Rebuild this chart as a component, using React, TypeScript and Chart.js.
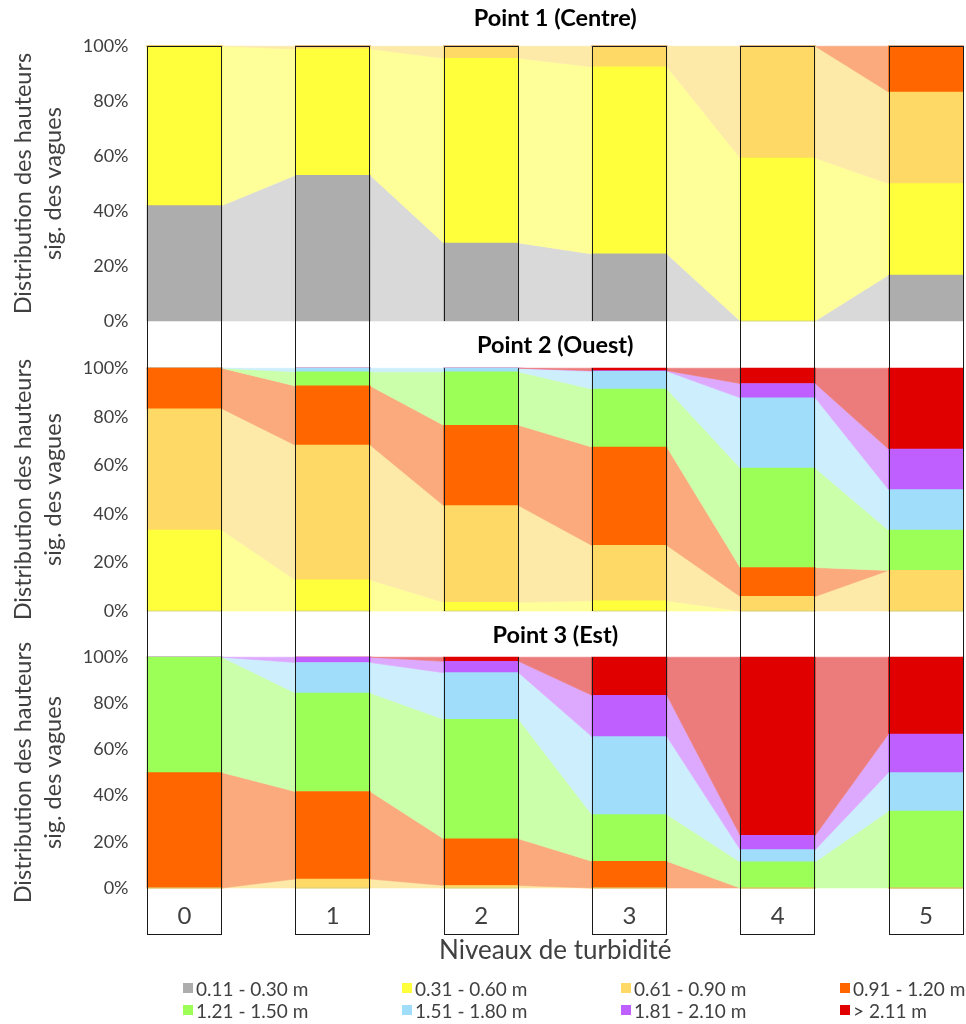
import React, { useEffect, useRef } from 'react';
import { Chart, registerables } from 'chart.js';

Chart.register(...registerables);

const FONT = "Lato, 'Noto Sans', 'Open Sans', sans-serif";

// ---------- categories / labels ----------
const turbidityLevels = ['0', '1', '2', '3', '4', '5'];
const heightClasses = [
  '0.11 - 0.30 m',
  '0.31 - 0.60 m',
  '0.61 - 0.90 m',
  '0.91 - 1.20 m',
  '1.21 - 1.50 m',
  '1.51 - 1.80 m',
  '1.81 - 2.10 m',
  '> 2.11 m',
];
const percentTicks = [0, 20, 40, 60, 80, 100];
const panelTitles = ['Point 1 (Centre)', 'Point 2 (Ouest)', 'Point 3 (Est)'];
const yAxisTitle = ['Distribution des hauteurs', 'sig. des vagues'];
const xAxisTitle = 'Niveaux de turbidité';

// ---------- Point 1 (Centre) : % per height class ----------
const centre_011_030 = [42, 53, 28.4, 24.4, 0, 16.7];
const centre_031_060 = [58, 46, 67.2, 68.1, 59.3, 33.3];
const centre_061_090 = [0, 1, 4.4, 7.5, 40.7, 33.3];
const centre_091_120 = [0, 0, 0, 0, 0, 16.7];
const centre_121_150 = [0, 0, 0, 0, 0, 0];
const centre_151_180 = [0, 0, 0, 0, 0, 0];
const centre_181_210 = [0, 0, 0, 0, 0, 0];
const centre_211_plus = [0, 0, 0, 0, 0, 0];

// ---------- Point 2 (Ouest) ----------
const ouest_011_030 = [0, 0, 0, 0, 0, 0];
const ouest_031_060 = [33.3, 12.8, 3.6, 4.2, 0, 0];
const ouest_061_090 = [50, 55.5, 39.8, 22.8, 6, 16.7];
const ouest_091_120 = [16.7, 24.4, 33.1, 40.5, 11.9, 0];
const ouest_121_150 = [0, 5.8, 22, 23.9, 41, 16.6];
const ouest_151_180 = [0, 1.5, 1.5, 7.3, 28.9, 16.7];
const ouest_181_210 = [0, 0, 0, 0.3, 5.9, 16.7];
const ouest_211_plus = [0, 0, 0, 1, 6.3, 33.3];

// ---------- Point 3 (Est) ----------
const est_011_030 = [0, 0, 0, 0, 0, 0];
const est_031_060 = [0, 0, 0, 0, 0, 0];
const est_061_090 = [0, 3.9, 1.1, 0, 0, 0];
const est_091_120 = [50, 37.9, 20.2, 11.6, 0, 0];
const est_121_150 = [50, 42.7, 51.8, 20.2, 11.3, 33.3];
const est_151_180 = [0, 13.2, 20.2, 33.8, 5.3, 16.7];
const est_181_210 = [0, 2.3, 4.9, 17.9, 6.2, 16.7];
const est_211_plus = [0, 0, 1.8, 16.5, 77.2, 33.3];

const centreSeries = [centre_011_030, centre_031_060, centre_061_090, centre_091_120, centre_121_150, centre_151_180, centre_181_210, centre_211_plus];
const ouestSeries = [ouest_011_030, ouest_031_060, ouest_061_090, ouest_091_120, ouest_121_150, ouest_151_180, ouest_181_210, ouest_211_plus];
const estSeries = [est_011_030, est_031_060, est_061_090, est_091_120, est_121_150, est_151_180, est_181_210, est_211_plus];

// ---------- styles ----------
const barColors = ['#ADADAD', '#FFFF3C', '#FFD966', '#FF6600', '#9CFF57', '#9FDDFB', '#BF5FFF', '#E00000'];
const flowColors = ['#D9D9D9', '#FFFF99', '#FDEAA8', '#FAAA7C', '#CCFFAA', '#CDEEFD', '#DDA9FF', '#EC7B7B'];

// ribbons between consecutive stacked bars, using the bar elements' geometry
const flowPlugin = {
  id: 'flows',
  beforeDatasetsDraw(chart: any) {
    const ctx = chart.ctx;
    chart.data.datasets.forEach((_ds: any, d: number) => {
      const els = chart.getDatasetMeta(d).data;
      const col = flowColors[d];
      ctx.save();
      ctx.fillStyle = col;
      ctx.strokeStyle = col;
      ctx.lineWidth = 0.6;
      for (let i = 0; i < els.length - 1; i++) {
        const a = els[i];
        const b = els[i + 1];
        if (Math.abs(a.y - a.base) < 0.01 && Math.abs(b.y - b.base) < 0.01) continue;
        const ax = a.x + a.width / 2;
        const bx = b.x - b.width / 2;
        ctx.beginPath();
        ctx.moveTo(ax, a.y);
        ctx.lineTo(bx, b.y);
        ctx.lineTo(bx, b.base);
        ctx.lineTo(ax, a.base);
        ctx.closePath();
        ctx.fill();
        ctx.stroke();
      }
      ctx.restore();
    });
  },
};

// tall black frames around each bar column (interrupted behind the panel titles)
const framePlugin = {
  id: 'frames',
  afterDraw(chart: any, _args: any, opts: any) {
    const { ctx, chartArea } = chart;
    const els = chart.getDatasetMeta(0).data;
    const cx = (chartArea.left + chartArea.right) / 2;
    const gapL = cx - 120;
    const gapR = cx + 60;
    const bottom = opts.closeBottom ? chartArea.bottom + opts.closeBottom : chart.height;
    ctx.save();
    ctx.strokeStyle = '#1a1a1a';
    ctx.lineWidth = 1;
    ctx.beginPath();
    els.forEach((el: any) => {
      const l = Math.round(el.x - el.width / 2) + 0.5;
      const r = Math.round(el.x + el.width / 2) - 0.5;
      [l, r].forEach((x) => {
        const inGap = x > gapL && x < gapR;
        const top = opts.closeTop || inGap ? chartArea.top : 0;
        const bot = opts.gapBelow && inGap ? chartArea.bottom : bottom;
        ctx.moveTo(x, top);
        ctx.lineTo(x, bot);
      });
      if (opts.closeTop) {
        ctx.moveTo(l, Math.round(chartArea.top) + 0.5);
        ctx.lineTo(r, Math.round(chartArea.top) + 0.5);
      }
      if (opts.closeBottom) {
        ctx.moveTo(l, Math.round(bottom) - 0.5);
        ctx.lineTo(r, Math.round(bottom) - 0.5);
      }
    });
    ctx.stroke();
    ctx.restore();
  },
};

const panels = [
  { series: centreSeries, title: panelTitles[0], top: 0, height: 330, titlePad: { top: 4, bottom: 14 }, padBottom: 9, showX: false, closeTop: true, closeBottom: 0, gapBelow: true },
  { series: ouestSeries, title: panelTitles[1], top: 330, height: 290, titlePad: { top: 1, bottom: 9 }, padBottom: 9, showX: false, closeTop: false, closeBottom: 0, gapBelow: true },
  { series: estSeries, title: panelTitles[2], top: 620, height: 404, titlePad: { top: 1, bottom: 8 }, padBottom: 59, showX: true, closeTop: false, closeBottom: 47, gapBelow: false },
];

function buildConfig(p: any): any {
  return {
    type: 'bar',
    data: {
      labels: turbidityLevels,
      datasets: p.series.map((values: number[], k: number) => ({
        label: heightClasses[k],
        data: values,
        backgroundColor: barColors[k],
        borderWidth: 0,
        barThickness: 75,
        clip: false,
      })),
    },
    plugins: [flowPlugin, framePlugin],
    options: {
      responsive: false,
      animation: false,
      devicePixelRatio: 1,
      layout: { padding: { left: 0, right: 40, top: 0, bottom: p.padBottom } },
      plugins: {
        legend: { display: false },
        tooltip: { enabled: false },
        title: {
          display: true,
          text: p.title,
          fullSize: false,
          color: '#000',
          font: { family: FONT, size: 23.5, weight: 'bold', lineHeight: 1.2 },
          padding: p.titlePad,
        },
        frames: { closeTop: p.closeTop, closeBottom: p.closeBottom, gapBelow: p.gapBelow },
      },
      scales: {
        x: {
          stacked: true,
          offset: false,
          display: p.showX,
          grid: { display: false, drawTicks: false },
          border: { display: false },
          ticks: {
            padding: 15,
            color: '#404040',
            font: { family: FONT, size: 24, lineHeight: 1.1 },
            maxRotation: 0,
            autoSkip: false,
          },
          title: {
            display: true,
            text: xAxisTitle,
            color: '#404040',
            font: { family: FONT, size: 26, lineHeight: 1.1 },
            padding: { top: 0, bottom: 0 },
          },
          afterFit: (s: any) => {
            if (p.showX) s.height = 77;
          },
        },
        y: {
          stacked: true,
          min: 0,
          max: 100,
          grid: { display: false, drawTicks: true, tickLength: 56 },
          border: { display: false },
          afterBuildTicks: (axis: any) => {
            axis.ticks = percentTicks.map((v) => ({ value: v }));
          },
          ticks: {
            callback: (v: any) => v + '%',
            padding: 0,
            color: '#404040',
            font: { family: FONT, size: 18, lineHeight: 1 },
          },
          title: {
            display: true,
            text: yAxisTitle,
            color: '#404040',
            font: { family: FONT, size: 23.5, lineHeight: 1.3 },
            padding: { top: 8, bottom: 0 },
          },
          afterFit: (s: any) => {
            s.width = 184.5;
          },
        },
      },
    },
  };
}

export default function App() {
  const r0 = useRef<HTMLCanvasElement>(null);
  const r1 = useRef<HTMLCanvasElement>(null);
  const r2 = useRef<HTMLCanvasElement>(null);
  const refs = [r0, r1, r2];

  useEffect(() => {
    const charts = panels.map((p, i) => new Chart(refs[i].current as HTMLCanvasElement, buildConfig(p)));
    return () => charts.forEach((c) => c.destroy());
  }, []);

  return (
    <div style={{ position: 'absolute', left: 0, top: 0, width: 966, height: 1024, background: '#fff', overflow: 'hidden' }}>
      {panels.map((p, i) => (
        <canvas
          key={i}
          ref={refs[i]}
          width={966}
          height={p.height}
          style={{ position: 'absolute', left: 0, top: p.top, width: 966, height: p.height }}
        />
      ))}
      {heightClasses.map((label, k) => (
        <div
          key={label}
          style={{
            position: 'absolute',
            left: 183 + (k % 4) * 219,
            top: 977 + Math.floor(k / 4) * 22,
            height: 22,
            display: 'flex',
            alignItems: 'center',
            fontFamily: FONT,
            fontSize: 19,
            color: '#404040',
            whiteSpace: 'nowrap',
          }}
        >
          <span style={{ display: 'inline-block', width: 10, height: 10, background: barColors[k], marginRight: 3 }} />
          {label}
        </div>
      ))}
    </div>
  );
}
